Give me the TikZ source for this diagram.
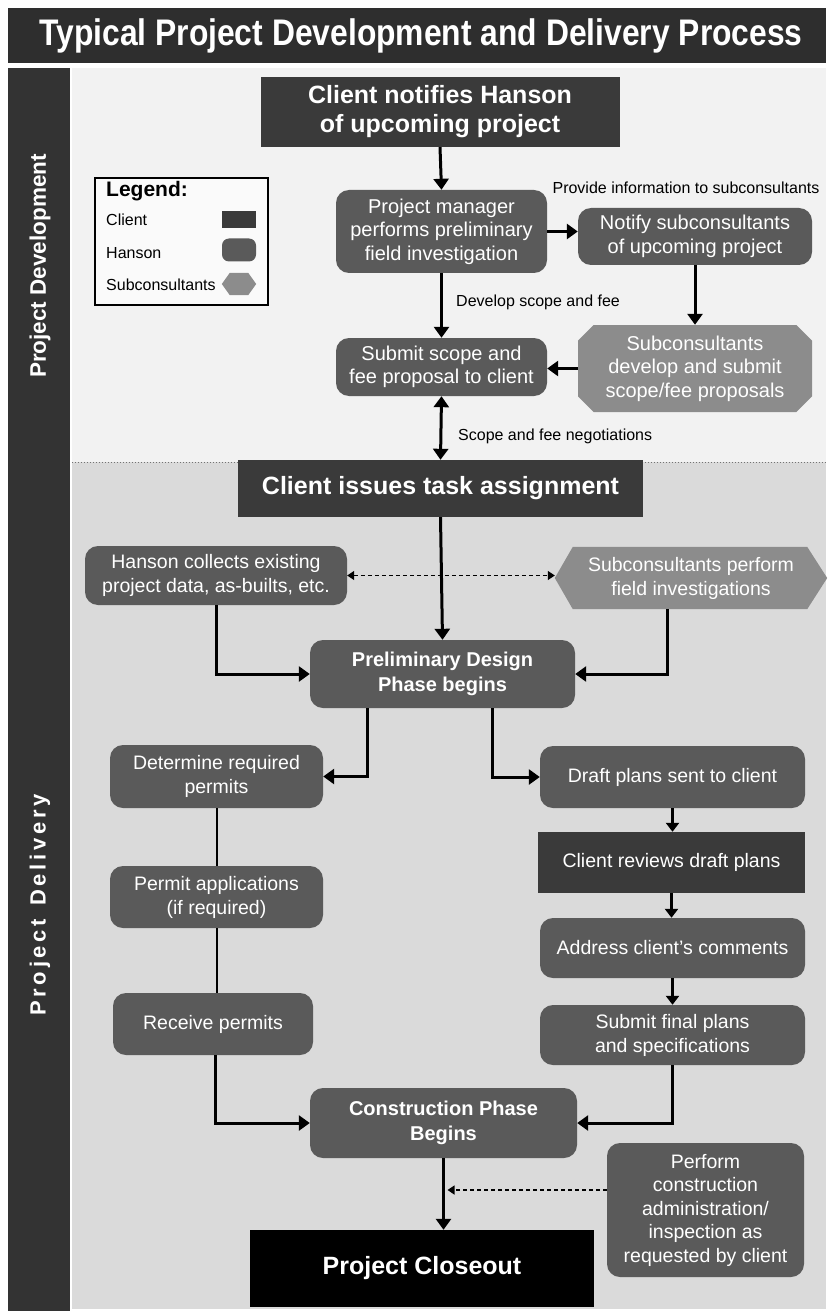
\documentclass[tikz,border=0pt]{standalone}
\usepackage{fontspec}
\setmainfont{Liberation Sans}
\newfontfamily\titlefont[FakeStretch=0.86]{Liberation Sans}
\usetikzlibrary{arrows.meta,shapes.misc,calc}
\pgfdeclarelayer{back}
\pgfdeclarelayer{mid}
\pgfsetlayers{back,mid,main}
\definecolor{titlec}{HTML}{2E2E2E}
\definecolor{barc}{HTML}{333333}
\definecolor{topbg}{HTML}{F2F2F2}
\definecolor{botbg}{HTML}{DADADA}
\definecolor{clc}{HTML}{3A3A3A}
\definecolor{hsc}{HTML}{5A5A5A}
\definecolor{sbc}{HTML}{8C8C8C}
\tikzset{
  client/.style={rectangle, fill=clc, text=white, align=center, inner sep=0pt},
  hanson/.style={rectangle, rounded corners=13pt, fill=hsc, text=white, align=center, inner sep=0pt},
  subc/.style={chamfered rectangle, chamfered rectangle xsep=12pt, fill=sbc, text=white, align=center, inner sep=0pt},
  subtxt/.style={rectangle, text=white, align=center, inner sep=0pt},
  regtxt/.style={font=\fontsize{20}{23.5}\selectfont},
  lowtxt/.style={font=\fontsize{19.5}{24}\selectfont},
  lowbold/.style={font=\bfseries\fontsize{20}{25}\selectfont},
  bigbold/.style={font=\bfseries\fontsize{25}{29}\selectfont},
  lbl/.style={font=\fontsize{16}{19}\selectfont, inner sep=0pt},
  arr/.style={line width=3pt, -{Triangle[width=15pt,length=11pt]}},
  arrs/.style={line width=2.5pt, -{Triangle[width=13pt,length=9pt]}},
  dbl/.style={line width=3pt, {Triangle[width=15pt,length=11pt]}-{Triangle[width=15pt,length=11pt]}},
  dasharr/.style={line width=1.3pt, dash pattern=on 4pt off 3pt, -{Triangle[width=9pt,length=7pt]}},
  dashdbl/.style={line width=1.3pt, dash pattern=on 4pt off 3pt, {Triangle[width=9pt,length=7pt]}-{Triangle[width=9pt,length=7pt]}},
  plain/.style={line width=2pt}
}
\begin{document}
\begin{tikzpicture}[x=1pt,y=-1pt]
\useasboundingbox (0,0) rectangle (832,1313);
\begin{pgfonlayer}{back}
\fill[white] (0,0) rectangle (832,1313);
\fill[titlec] (8,8) rectangle (826,63);
\fill[barc] (8,68) rectangle (70,1311);
\fill[topbg] (72,68) rectangle (826,462);
\fill[botbg] (72,462) rectangle (826,1309);
\draw[dotted, line width=1pt, black!55] (72,462) -- (826,462);
\end{pgfonlayer}

\node[text=white, font=\titlefont\bfseries\fontsize{37}{40}\selectfont] (title) at (421,36) {Typical Project Development and Delivery Process};
\node[rotate=90, text=white, font=\bfseries\fontsize{22.5}{26}\selectfont] (pdev) at (40,266) {Project Development};
\node[rotate=90, text=white, font=\bfseries\fontsize{22}{26}\selectfont] (pdel) at (40,905) {P\,r\,o\,j\,e\,c\,t\, \,D\,e\,l\,i\,v\,e\,r\,y};

% legend
\node[draw, line width=1.2pt, fill=white!60!topbg, minimum width=173pt, minimum height=127pt, inner sep=0pt] (legend) at (181.5,241.5) {};
\node[anchor=west, font=\bfseries\fontsize{21}{24}\selectfont, inner sep=0pt] (lgt) at (106,191) {Legend:};
\node[anchor=west, lbl] (lcl) at (106,220) {Client};
\node[anchor=west, lbl] (lhs) at (106,253) {Hanson};
\node[anchor=west, lbl] (lsb) at (106,285) {Subconsultants};
\node[client, minimum width=34pt, minimum height=17pt] (lclb) at (239,219.5) {};
\node[hanson, rounded corners=7pt, minimum width=34pt, minimum height=23pt] (lhsb) at (239,250) {};
\node[subtxt, minimum width=34pt, minimum height=22pt] (lsbb) at (239,284) {};
\fill[sbc] (lsbb.west) -- ([xshift=8pt]lsbb.north west) -- ([xshift=-8pt]lsbb.north east) -- (lsbb.east) -- ([xshift=-8pt]lsbb.south east) -- ([xshift=8pt]lsbb.south west) -- cycle;

% development nodes
\node[client, minimum width=359pt, minimum height=70pt, bigbold] (n1) at (440,112) {Client notifies Hanson\\of upcoming project};
\node[hanson, minimum width=211pt, minimum height=83pt, regtxt] (n2) at (441.5,231.5) {Project manager\\performs preliminary\\field investigation};
\node[hanson, minimum width=234pt, minimum height=57pt, regtxt] (n3) at (695,236.5) {Notify subconsultants\\of upcoming project};
\node[subc, minimum width=234pt, minimum height=87pt, regtxt] (n4) at (695,368.5) {Subconsultants\\develop and submit\\scope/fee proposals};
\node[hanson, minimum width=211pt, minimum height=58pt, regtxt] (n5) at (441.5,367) {Submit scope and\\fee proposal to client};
\node[client, minimum width=405pt, minimum height=57pt, bigbold] (n6) at (440.5,488.5) {Client issues task assignment};

\node[lbl, anchor=center] (l1) at (686,188) {Provide information to subconsultants};
\node[lbl, anchor=west] (l2) at (456,302) {Develop scope and fee};
\node[lbl, anchor=west] (l3) at (458,436) {Scope and fee negotiations};

\draw[arr] (n1.south) -- (n2.north);
\draw[arr] (n2.east) -- (n2.east -| n3.west);
\draw[arr] (n3.south) -- (n4.north);
\draw[arr] (n4.west) -- (n4.west -| n5.east);
\draw[arr] (n2.south) -- (n5.north);
\draw[dbl] (n5.south) -- (n6.north);

% delivery nodes
\node[hanson, minimum width=262pt, minimum height=59pt, lowtxt] (n7) at (216,575.5) {Hanson collects existing\\project data, as-builts, etc.};
\node[subtxt, minimum width=272pt, minimum height=62pt, lowtxt] (n8) at (691,578) {Subconsultants perform\\field investigations};
\begin{pgfonlayer}{mid}
\fill[sbc] (n8.west) -- ([xshift=18pt]n8.north west) -- ([xshift=-20pt]n8.north east) -- (n8.east) -- ([xshift=-20pt]n8.south east) -- ([xshift=18pt]n8.south west) -- cycle;
\end{pgfonlayer}
\node[hanson, minimum width=265pt, minimum height=68pt, lowbold] (n9) at (442.5,674) {Preliminary Design\\Phase begins};
\node[hanson, minimum width=213pt, minimum height=63pt, lowtxt] (n10) at (216.5,776.5) {Determine required\\permits};
\node[hanson, minimum width=265pt, minimum height=62pt, lowtxt] (n11) at (672.5,777) {Draft plans sent to client};
\node[hanson, minimum width=213pt, minimum height=62pt, lowtxt] (n12) at (216.5,897) {Permit applications\\(if required)};
\node[hanson, minimum width=200pt, minimum height=62pt, lowtxt] (n13) at (213,1024) {Receive permits};
\node[client, minimum width=267pt, minimum height=61pt, lowtxt] (n14) at (671.5,862.5) {Client reviews draft plans};
\node[hanson, minimum width=265pt, minimum height=60pt, lowtxt] (n15) at (672.5,948) {Address client's comments};
\node[hanson, minimum width=265pt, minimum height=60pt, lowtxt] (n16) at (672.5,1035) {Submit final plans\\and specifications};
\node[hanson, minimum width=267pt, minimum height=70pt, lowbold] (n17) at (443.5,1123) {Construction Phase\\Begins};
\node[client, fill=black, minimum width=344pt, minimum height=77pt, bigbold] (n18) at (422,1268.5) {Project Closeout};
\node[hanson, minimum width=197pt, minimum height=134pt, font=\fontsize{19.5}{23.5}\selectfont] (n19) at (705.5,1210) {Perform\\construction\\administration/\\inspection as\\requested by client};

\draw[dashdbl] (n7.east) -- (n7.east -| n8.west);
\draw[arr] (n6.south) -- (n9.north);
\draw[arr] (n7.south) |- (n9.west);
\draw[arr] ([xshift=-24pt]n8.south) |- (n9.east);
\draw[arr] ([xshift=-75pt]n9.south) |- (n10.east);
\draw[arr] ([xshift=50pt]n9.south) |- (n11.west);
\draw[plain] (n10.south) -- (n12.north);
\draw[plain] (n12.south) -- (n12.south |- n13.north);
\draw[arr] ([xshift=2pt]n13.south) |- (n17.west);
\draw[arrs] (n11.south) -- (n11.south |- n14.north);
\draw[arrs] (n14.south) -- (n14.south |- n15.north);
\draw[arrs] (n15.south) -- (n16.north);
\draw[arr] (n16.south) |- (n17.east);
\draw[arr] (n17.south) -- (n17.south |- n18.north);
\coordinate (pa) at ([yshift=20pt]n19.west);
\draw[dasharr] (pa) -- ([xshift=4pt]pa -| n17.south);
\end{tikzpicture}
\end{document}
